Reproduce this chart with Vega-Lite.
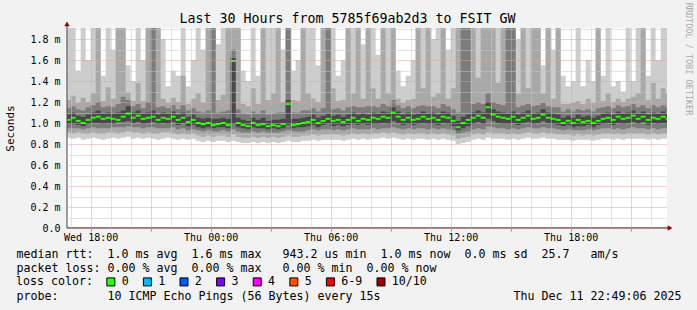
{
"$schema":"https://vega.github.io/schema/vega-lite/v6.json",
"width":600,"height":200,
"autosize":{"type":"none"},
"padding":{"left":67,"top":28,"right":30,"bottom":82},
"background":"#f2f2f2",
"config":{"font":"DejaVu Sans Mono","view":{"fill":"#ffffff","stroke":null},"axis":{"labelFont":"DejaVu Sans Mono","titleFont":"DejaVu Sans Mono"},"legend":{"labelFont":"DejaVu Sans Mono","titleFont":"DejaVu Sans Mono"}},
"title":{"text":"Last 30 Hours from 5785f69ab2d3 to FSIT GW","font":"DejaVu Sans Mono","fontSize":13.29,"fontWeight":"normal","color":"#000000","anchor":"middle","dx":-19.5,"offset":-34.5,"baseline":"alphabetic"},
"data":{"values":[
{"t":16.75,"a":0.86,"b":0.91,"c":0.95,"d":0.99,"m":1.03,"e":1.08,"f":1.14,"g":1.22,"h":2.5},
{"t":17.0,"a":0.85,"b":0.90,"c":0.95,"d":0.99,"m":1.05,"e":1.10,"f":1.16,"g":1.26,"h":2.5},
{"t":17.25,"a":0.86,"b":0.91,"c":0.95,"d":0.98,"m":1.02,"e":1.07,"f":1.13,"g":1.19,"h":1.5},
{"t":17.5,"a":0.84,"b":0.90,"c":0.94,"d":0.97,"m":1.00,"e":1.06,"f":1.12,"g":1.24,"h":2.5},
{"t":17.75,"a":0.85,"b":0.90,"c":0.95,"d":0.99,"m":1.03,"e":1.08,"f":1.15,"g":1.20,"h":1.6},
{"t":18.0,"a":0.86,"b":0.91,"c":0.96,"d":1.00,"m":1.05,"e":1.10,"f":1.17,"g":1.28,"h":2.5},
{"t":18.25,"a":0.85,"b":0.90,"c":0.95,"d":1.00,"m":1.06,"e":1.12,"f":1.20,"g":2.5,"h":2.5},
{"t":18.5,"a":0.84,"b":0.90,"c":0.95,"d":0.99,"m":1.04,"e":1.09,"f":1.15,"g":1.21,"h":1.45},
{"t":18.75,"a":0.85,"b":0.91,"c":0.95,"d":1.00,"m":1.05,"e":1.10,"f":1.16,"g":1.34,"h":2.5},
{"t":19.0,"a":0.86,"b":0.91,"c":0.96,"d":0.99,"m":1.04,"e":1.09,"f":1.15,"g":1.23,"h":1.7},
{"t":19.25,"a":0.85,"b":0.90,"c":0.96,"d":1.01,"m":1.03,"e":1.10,"f":1.18,"g":2.5,"h":2.5},
{"t":19.5,"a":0.86,"b":0.91,"c":0.96,"d":1.01,"m":1.06,"e":1.12,"f":1.25,"g":2.5,"h":2.5},
{"t":19.75,"a":0.87,"b":0.92,"c":0.97,"d":1.02,"m":1.09,"e":1.16,"f":1.22,"g":1.29,"h":1.55},
{"t":20.0,"a":0.85,"b":0.91,"c":0.96,"d":1.00,"m":1.05,"e":1.10,"f":1.16,"g":1.21,"h":1.4},
{"t":20.25,"a":0.86,"b":0.91,"c":0.96,"d":1.01,"m":1.07,"e":1.12,"f":1.18,"g":1.38,"h":2.5},
{"t":20.5,"a":0.85,"b":0.90,"c":0.95,"d":0.99,"m":1.04,"e":1.09,"f":1.14,"g":1.21,"h":1.6},
{"t":20.75,"a":0.86,"b":0.91,"c":0.96,"d":1.00,"m":1.05,"e":1.10,"f":1.20,"g":2.5,"h":2.5},
{"t":21.0,"a":0.85,"b":0.90,"c":0.96,"d":1.01,"m":1.06,"e":1.12,"f":2.5,"g":2.5,"h":2.5},
{"t":21.25,"a":0.84,"b":0.90,"c":0.95,"d":0.99,"m":1.03,"e":1.08,"f":1.15,"g":2.5,"h":2.5},
{"t":21.5,"a":0.85,"b":0.91,"c":0.95,"d":1.00,"m":1.05,"e":1.10,"f":1.16,"g":1.23,"h":1.8},
{"t":21.75,"a":0.86,"b":0.91,"c":0.95,"d":0.99,"m":1.04,"e":1.09,"f":1.14,"g":1.19,"h":1.35},
{"t":22.0,"a":0.85,"b":0.90,"c":0.96,"d":1.01,"m":1.06,"e":1.11,"f":1.17,"g":1.24,"h":1.5},
{"t":22.25,"a":0.84,"b":0.89,"c":0.94,"d":0.98,"m":1.03,"e":1.08,"f":1.13,"g":1.20,"h":1.45},
{"t":22.5,"a":0.85,"b":0.90,"c":0.95,"d":1.00,"m":1.05,"e":1.10,"f":1.17,"g":1.45,"h":2.5},
{"t":22.75,"a":0.84,"b":0.89,"c":0.93,"d":0.97,"m":1.01,"e":1.06,"f":1.12,"g":1.18,"h":1.35},
{"t":23.0,"a":0.85,"b":0.90,"c":0.94,"d":0.98,"m":1.03,"e":1.08,"f":1.14,"g":1.23,"h":1.6},
{"t":23.25,"a":0.83,"b":0.88,"c":0.93,"d":0.96,"m":1.00,"e":1.05,"f":1.11,"g":1.28,"h":2.5},
{"t":23.5,"a":0.82,"b":0.87,"c":0.92,"d":0.95,"m":0.99,"e":1.04,"f":1.10,"g":1.19,"h":1.7},
{"t":23.75,"a":0.83,"b":0.88,"c":0.93,"d":0.96,"m":1.00,"e":1.05,"f":1.12,"g":2.5,"h":2.5},
{"t":24.0,"a":0.82,"b":0.87,"c":0.92,"d":0.95,"m":0.98,"e":1.04,"f":2.5,"g":2.5,"h":2.5},
{"t":24.25,"a":0.83,"b":0.88,"c":0.92,"d":0.96,"m":0.99,"e":1.04,"f":1.10,"g":1.22,"h":1.75},
{"t":24.5,"a":0.83,"b":0.88,"c":0.93,"d":0.96,"m":1.00,"e":1.05,"f":1.11,"g":1.27,"h":2.5},
{"t":24.75,"a":0.82,"b":0.87,"c":0.92,"d":0.95,"m":0.98,"e":1.04,"f":1.12,"g":2.5,"h":2.5},
{"t":25.0,"a":0.83,"b":0.89,"c":0.94,"d":0.99,"m":1.59,"e":1.62,"f":1.70,"g":2.5,"h":2.5},
{"t":25.25,"a":0.82,"b":0.87,"c":0.92,"d":0.96,"m":1.00,"e":1.05,"f":1.13,"g":2.5,"h":2.5},
{"t":25.5,"a":0.81,"b":0.86,"c":0.91,"d":0.95,"m":0.98,"e":1.03,"f":1.09,"g":1.18,"h":1.5},
{"t":25.75,"a":0.81,"b":0.86,"c":0.91,"d":0.94,"m":0.97,"e":1.02,"f":1.08,"g":1.16,"h":1.4},
{"t":26.0,"a":0.82,"b":0.87,"c":0.92,"d":0.96,"m":1.00,"e":1.05,"f":1.11,"g":1.33,"h":2.5},
{"t":26.25,"a":0.81,"b":0.86,"c":0.91,"d":0.95,"m":0.98,"e":1.03,"f":1.09,"g":1.18,"h":1.45},
{"t":26.5,"a":0.82,"b":0.87,"c":0.92,"d":0.95,"m":0.99,"e":1.05,"f":1.12,"g":2.5,"h":2.5},
{"t":26.75,"a":0.81,"b":0.86,"c":0.91,"d":0.94,"m":0.97,"e":1.02,"f":1.08,"g":1.22,"h":2.5},
{"t":27.0,"a":0.82,"b":0.87,"c":0.91,"d":0.95,"m":0.98,"e":1.03,"f":1.09,"g":1.28,"h":2.5},
{"t":27.25,"a":0.81,"b":0.86,"c":0.91,"d":0.94,"m":0.97,"e":1.03,"f":1.10,"g":2.5,"h":2.5},
{"t":27.5,"a":0.82,"b":0.87,"c":0.92,"d":0.95,"m":0.99,"e":1.04,"f":1.10,"g":1.20,"h":1.7},
{"t":27.75,"a":0.83,"b":0.88,"c":0.93,"d":0.98,"m":1.18,"e":1.22,"f":2.5,"g":2.5,"h":2.5},
{"t":28.0,"a":0.82,"b":0.87,"c":0.92,"d":0.95,"m":0.98,"e":1.04,"f":1.10,"g":1.22,"h":1.5},
{"t":28.25,"a":0.82,"b":0.87,"c":0.92,"d":0.96,"m":0.99,"e":1.04,"f":1.10,"g":1.21,"h":1.6},
{"t":28.5,"a":0.83,"b":0.88,"c":0.92,"d":0.96,"m":1.00,"e":1.05,"f":1.12,"g":2.5,"h":2.5},
{"t":28.75,"a":0.83,"b":0.88,"c":0.93,"d":0.97,"m":1.01,"e":1.06,"f":1.12,"g":1.28,"h":2.5},
{"t":29.0,"a":0.84,"b":0.89,"c":0.94,"d":0.98,"m":1.03,"e":1.08,"f":1.14,"g":1.23,"h":2.5},
{"t":29.25,"a":0.83,"b":0.88,"c":0.93,"d":0.96,"m":1.00,"e":1.05,"f":1.11,"g":1.20,"h":1.55},
{"t":29.5,"a":0.84,"b":0.89,"c":0.94,"d":0.98,"m":1.02,"e":1.07,"f":1.14,"g":2.5,"h":2.5},
{"t":29.75,"a":0.84,"b":0.89,"c":0.94,"d":0.99,"m":1.04,"e":1.09,"f":2.5,"g":2.5,"h":2.5},
{"t":30.0,"a":0.84,"b":0.89,"c":0.93,"d":0.97,"m":1.02,"e":1.07,"f":1.13,"g":1.33,"h":2.5},
{"t":30.25,"a":0.84,"b":0.89,"c":0.94,"d":0.98,"m":1.03,"e":1.08,"f":1.14,"g":1.21,"h":1.45},
{"t":30.5,"a":0.83,"b":0.88,"c":0.93,"d":0.97,"m":1.01,"e":1.06,"f":1.12,"g":1.22,"h":1.6},
{"t":30.75,"a":0.84,"b":0.89,"c":0.94,"d":0.98,"m":1.03,"e":1.08,"f":1.15,"g":2.5,"h":2.5},
{"t":31.0,"a":0.85,"b":0.90,"c":0.95,"d":0.99,"m":1.05,"e":1.10,"f":1.16,"g":1.28,"h":2.5},
{"t":31.25,"a":0.84,"b":0.89,"c":0.94,"d":0.98,"m":1.02,"e":1.08,"f":1.15,"g":2.5,"h":2.5},
{"t":31.5,"a":0.85,"b":0.90,"c":0.94,"d":0.99,"m":1.04,"e":1.09,"f":1.15,"g":1.23,"h":1.75},
{"t":31.75,"a":0.84,"b":0.89,"c":0.94,"d":0.98,"m":1.03,"e":1.08,"f":1.16,"g":2.5,"h":2.5},
{"t":32.0,"a":0.85,"b":0.90,"c":0.95,"d":0.99,"m":1.05,"e":1.10,"f":1.16,"g":1.33,"h":2.5},
{"t":32.25,"a":0.85,"b":0.90,"c":0.94,"d":0.99,"m":1.04,"e":1.09,"f":1.15,"g":1.23,"h":1.65},
{"t":32.5,"a":0.86,"b":0.91,"c":0.95,"d":1.00,"m":1.06,"e":1.11,"f":1.18,"g":2.5,"h":2.5},
{"t":32.75,"a":0.85,"b":0.90,"c":0.95,"d":0.99,"m":1.05,"e":1.10,"f":1.16,"g":1.28,"h":2.5},
{"t":33.0,"a":0.86,"b":0.91,"c":0.96,"d":1.02,"m":1.10,"e":1.15,"f":1.22,"g":2.5,"h":2.5},
{"t":33.25,"a":0.85,"b":0.90,"c":0.95,"d":1.00,"m":1.06,"e":1.11,"f":1.17,"g":1.23,"h":1.5},
{"t":33.5,"a":0.84,"b":0.89,"c":0.94,"d":0.98,"m":1.03,"e":1.08,"f":1.14,"g":1.19,"h":1.35},
{"t":33.75,"a":0.85,"b":0.90,"c":0.95,"d":0.99,"m":1.05,"e":1.10,"f":1.16,"g":1.22,"h":1.45},
{"t":34.0,"a":0.84,"b":0.89,"c":0.94,"d":0.98,"m":1.03,"e":1.08,"f":1.14,"g":1.23,"h":1.6},
{"t":34.25,"a":0.85,"b":0.90,"c":0.95,"d":0.99,"m":1.04,"e":1.09,"f":1.16,"g":2.5,"h":2.5},
{"t":34.5,"a":0.85,"b":0.90,"c":0.95,"d":1.00,"m":1.06,"e":1.11,"f":1.17,"g":1.33,"h":2.5},
{"t":34.75,"a":0.84,"b":0.89,"c":0.94,"d":0.99,"m":1.04,"e":1.09,"f":1.16,"g":2.5,"h":2.5},
{"t":35.0,"a":0.85,"b":0.90,"c":0.95,"d":0.99,"m":1.05,"e":1.10,"f":1.16,"g":1.25,"h":1.8},
{"t":35.25,"a":0.84,"b":0.89,"c":0.94,"d":0.98,"m":1.03,"e":1.08,"f":1.14,"g":1.28,"h":2.5},
{"t":35.5,"a":0.85,"b":0.90,"c":0.95,"d":1.00,"m":1.06,"e":1.11,"f":1.18,"g":2.5,"h":2.5},
{"t":35.75,"a":0.84,"b":0.89,"c":0.94,"d":0.99,"m":1.05,"e":1.10,"f":1.16,"g":1.23,"h":1.7},
{"t":36.0,"a":0.83,"b":0.88,"c":0.93,"d":0.97,"m":1.02,"e":1.07,"f":1.13,"g":1.33,"h":2.5},
{"t":36.25,"a":0.80,"b":0.85,"c":0.90,"d":0.93,"m":0.96,"e":1.02,"f":1.10,"g":2.5,"h":2.5},
{"t":36.5,"a":0.81,"b":0.86,"c":0.91,"d":0.95,"m":1.00,"e":1.06,"f":2.5,"g":2.5,"h":2.5},
{"t":36.75,"a":0.82,"b":0.87,"c":0.92,"d":0.97,"m":1.03,"e":1.08,"f":2.5,"g":2.5,"h":2.5},
{"t":37.0,"a":0.84,"b":0.89,"c":0.94,"d":0.99,"m":1.05,"e":1.10,"f":1.18,"g":2.5,"h":2.5},
{"t":37.25,"a":0.85,"b":0.90,"c":0.95,"d":1.01,"m":1.07,"e":1.12,"f":1.20,"g":1.43,"h":2.5},
{"t":37.5,"a":0.84,"b":0.89,"c":0.94,"d":0.99,"m":1.05,"e":1.10,"f":1.18,"g":2.5,"h":2.5},
{"t":37.75,"a":0.86,"b":0.91,"c":0.97,"d":1.04,"m":1.15,"e":1.20,"f":1.28,"g":2.5,"h":2.5},
{"t":38.0,"a":0.85,"b":0.90,"c":0.96,"d":1.02,"m":1.08,"e":1.13,"f":1.20,"g":2.5,"h":2.5},
{"t":38.25,"a":0.85,"b":0.90,"c":0.95,"d":1.00,"m":1.06,"e":1.11,"f":1.18,"g":1.38,"h":2.5},
{"t":38.5,"a":0.85,"b":0.90,"c":0.95,"d":0.99,"m":1.05,"e":1.10,"f":1.17,"g":2.5,"h":2.5},
{"t":38.75,"a":0.84,"b":0.89,"c":0.94,"d":0.99,"m":1.04,"e":1.09,"f":2.5,"g":2.5,"h":2.5},
{"t":39.0,"a":0.85,"b":0.90,"c":0.95,"d":1.00,"m":1.06,"e":1.11,"f":2.5,"g":2.5,"h":2.5},
{"t":39.25,"a":0.84,"b":0.89,"c":0.94,"d":0.98,"m":1.03,"e":1.08,"f":1.15,"g":1.28,"h":1.8},
{"t":39.5,"a":0.85,"b":0.90,"c":0.95,"d":1.00,"m":1.05,"e":1.10,"f":1.17,"g":2.5,"h":2.5},
{"t":39.75,"a":0.86,"b":0.91,"c":0.96,"d":1.01,"m":1.07,"e":1.12,"f":1.18,"g":1.33,"h":2.5},
{"t":40.0,"a":0.85,"b":0.90,"c":0.95,"d":0.99,"m":1.04,"e":1.09,"f":1.16,"g":2.5,"h":2.5},
{"t":40.25,"a":0.85,"b":0.90,"c":0.95,"d":1.00,"m":1.05,"e":1.10,"f":1.17,"g":2.5,"h":2.5},
{"t":40.5,"a":0.86,"b":0.91,"c":0.96,"d":1.02,"m":1.08,"e":1.13,"f":1.19,"g":1.28,"h":1.55},
{"t":40.75,"a":0.85,"b":0.90,"c":0.95,"d":1.00,"m":1.05,"e":1.10,"f":1.16,"g":2.5,"h":2.5},
{"t":41.0,"a":0.85,"b":0.90,"c":0.95,"d":0.99,"m":1.04,"e":1.09,"f":1.15,"g":1.23,"h":1.7},
{"t":41.25,"a":0.84,"b":0.89,"c":0.94,"d":0.98,"m":1.03,"e":1.08,"f":1.15,"g":2.5,"h":2.5},
{"t":41.5,"a":0.84,"b":0.89,"c":0.93,"d":0.97,"m":1.00,"e":1.05,"f":1.11,"g":1.18,"h":1.45},
{"t":41.75,"a":0.84,"b":0.89,"c":0.94,"d":0.98,"m":1.02,"e":1.07,"f":1.13,"g":1.18,"h":1.35},
{"t":42.0,"a":0.83,"b":0.88,"c":0.93,"d":0.96,"m":1.00,"e":1.05,"f":1.11,"g":1.19,"h":1.4},
{"t":42.25,"a":0.84,"b":0.89,"c":0.93,"d":0.97,"m":1.03,"e":1.08,"f":1.13,"g":1.21,"h":2.5},
{"t":42.5,"a":0.84,"b":0.88,"c":0.93,"d":0.97,"m":1.01,"e":1.06,"f":1.12,"g":1.18,"h":1.35},
{"t":42.75,"a":0.84,"b":0.89,"c":0.94,"d":0.98,"m":1.02,"e":1.07,"f":1.13,"g":1.23,"h":1.6},
{"t":43.0,"a":0.83,"b":0.88,"c":0.93,"d":0.96,"m":1.00,"e":1.05,"f":1.11,"g":1.19,"h":1.4},
{"t":43.25,"a":0.84,"b":0.89,"c":0.94,"d":0.98,"m":1.02,"e":1.07,"f":1.14,"g":2.5,"h":2.5},
{"t":43.5,"a":0.85,"b":0.90,"c":0.95,"d":0.99,"m":1.04,"e":1.09,"f":1.15,"g":1.21,"h":1.45},
{"t":43.75,"a":0.85,"b":0.90,"c":0.95,"d":1.00,"m":1.05,"e":1.10,"f":1.16,"g":1.28,"h":2.5},
{"t":44.0,"a":0.84,"b":0.89,"c":0.94,"d":0.98,"m":1.03,"e":1.08,"f":1.14,"g":1.20,"h":1.35},
{"t":44.25,"a":0.85,"b":0.90,"c":0.95,"d":1.00,"m":1.06,"e":1.11,"f":1.17,"g":1.23,"h":1.4},
{"t":44.5,"a":0.84,"b":0.89,"c":0.94,"d":0.99,"m":1.04,"e":1.09,"f":1.15,"g":1.20,"h":1.3},
{"t":44.75,"a":0.85,"b":0.90,"c":0.95,"d":1.00,"m":1.05,"e":1.10,"f":1.16,"g":1.23,"h":2.5},
{"t":45.0,"a":0.85,"b":0.90,"c":0.96,"d":1.01,"m":1.07,"e":1.12,"f":1.18,"g":1.25,"h":1.4},
{"t":45.25,"a":0.85,"b":0.90,"c":0.95,"d":0.99,"m":1.04,"e":1.09,"f":1.15,"g":1.28,"h":2.5},
{"t":45.5,"a":0.85,"b":0.90,"c":0.95,"d":1.01,"m":1.06,"e":1.11,"f":1.17,"g":2.5,"h":2.5},
{"t":45.75,"a":0.84,"b":0.89,"c":0.94,"d":0.98,"m":1.03,"e":1.08,"f":1.14,"g":1.22,"h":1.45},
{"t":46.0,"a":0.85,"b":0.90,"c":0.95,"d":1.00,"m":1.05,"e":1.10,"f":1.17,"g":1.38,"h":2.5},
{"t":46.25,"a":0.84,"b":0.89,"c":0.94,"d":0.99,"m":1.04,"e":1.09,"f":1.15,"g":1.23,"h":1.6},
{"t":46.5,"a":0.85,"b":0.90,"c":0.95,"d":1.00,"m":1.06,"e":1.11,"f":1.17,"g":1.33,"h":2.5},
{"t":46.75,"a":0.85,"b":0.90,"c":0.95,"d":0.99,"m":1.04,"e":1.09,"f":1.15,"g":1.28,"h":2.5},
{"t":47.0,"a":0.85,"b":0.90,"c":0.95,"d":0.99,"m":1.04,"e":1.09,"f":1.15,"g":1.28,"h":2.5}
]},
"resolve":{"axis":{"x":"independent","y":"independent"}},
"layer":[
{"mark":{"type":"area","interpolate":"step-after","clip":true,"color":"#cdcdcd"},
 "encoding":{
  "x":{"field":"t","type":"quantitative","scale":{"domain":[16.818,46.818],"nice":false,"zero":false},
   "axis":{"orient":"bottom","values":[17,19,20,22,23,25,26,28,29,31,32,34,35,37,38,40,41,43,44,46],"grid":true,"gridColor":"#c8c8c8","gridDash":[1,1],"labels":false,"ticks":false,"domain":false,"title":null,"zindex":1}},
  "y":{"field":"a","type":"quantitative","scale":{"domain":[0,1.905],"nice":false,"zero":false},
   "axis":{"orient":"left","values":[0.1,0.3,0.5,0.7,0.9,1.1,1.3,1.5,1.7,1.9],"grid":true,"gridColor":"#c8c8c8","gridDash":[1,1],"labels":false,"ticks":false,"domain":false,"title":null,"zindex":1}},
  "y2":{"field":"h"}}},
{"mark":{"type":"area","interpolate":"step-after","clip":true,"color":"#a8a8a8"},
 "encoding":{
  "x":{"field":"t","type":"quantitative","scale":{"domain":[16.818,46.818],"nice":false,"zero":false},
   "axis":{"orient":"bottom","values":[18,21,24,27,30,33,36,39,42,45],"grid":true,"gridColor":"#e2a0a0","gridDash":[1,1],"labels":false,"ticks":true,"tickColor":"#d08080","tickSize":3,"domain":false,"title":null,"zindex":1}},
  "y":{"field":"b","type":"quantitative","scale":{"domain":[0,1.905],"nice":false,"zero":false},
   "axis":{"orient":"left","values":[0,0.2,0.4,0.6,0.8,1.0,1.2,1.4,1.6,1.8],"grid":true,"gridColor":"#e2a0a0","gridDash":[1,1],"ticks":false,"domain":false,"labelExpr":"datum.value == 0 ? '0.0\u00a0\u00a0' : format(datum.value, '.1f') + ' m'","labelAlign":"right","labelPadding":7,"labelFontSize":10,"labelColor":"#000000","title":"Seconds","titleFontSize":11,"titleFontWeight":"normal","titleColor":"#000000","titleX":-57,"titleY":100,"titleAlign":"center","titleBaseline":"middle","zindex":1}},
  "y2":{"field":"g"}}},
{"mark":{"type":"area","interpolate":"step-after","clip":true,"color":"#7c7c7c"},
 "encoding":{
  "x":{"field":"t","type":"quantitative","scale":{"domain":[16.818,46.818],"nice":false,"zero":false},
   "axis":{"orient":"bottom","values":[18,24,30,36,42],"grid":false,"ticks":false,"domain":false,"labelExpr":"(datum.value < 24 ? 'Wed ' : 'Thu ') + (datum.value % 24 < 10 ? '0' : '') + (datum.value % 24) + ':00'","labelFontSize":10,"labelColor":"#000000","labelBaseline":"alphabetic","labelPadding":12.5,"labelFlush":false,"labelOverlap":false,
    "title":["median rtt:\u00a0\u00a01.0 ms avg\u00a0\u00a01.6 ms max\u00a0\u00a0\u00a0943.2 us min\u00a0\u00a01.0 ms now\u00a0\u00a00.0 ms sd\u00a0\u00a025.7\u00a0\u00a0\u00a0am/s","packet loss: 0.00 % avg\u00a0\u00a00.00 % max\u00a0\u00a0\u00a00.00 % min\u00a0\u00a00.00 % now","\u200b","probe:\u00a0\u00a0\u00a0\u00a0\u00a0\u00a0\u00a010 ICMP Echo Pings (56 Bytes) every 15s\u00a0\u00a0\u00a0\u00a0\u00a0\u00a0\u00a0\u00a0\u00a0\u00a0\u00a0\u00a0\u00a0\u00a0\u00a0\u00a0\u00a0\u00a0\u00a0Thu Dec 11 22:49:06 2025"],
    "titleX":-51,"titleY":29.5,"titleAlign":"left","titleBaseline":"alphabetic","titleFontSize":11.63,"titleFontWeight":"normal","titleColor":"#000000","titleLineHeight":14,"titleLimit":1000,"zindex":1}},
  "y":{"field":"c","type":"quantitative","scale":{"domain":[0,1.905],"nice":false,"zero":false},
   "axis":{"orient":"right","labels":false,"grid":false,"ticks":false,"domain":false,"title":"RRDTOOL / TOBI OETIKER","titleAngle":90,"titleFontSize":8.5,"titleFontWeight":"normal","titleColor":"#aaaaaa","titleX":21,"titleY":30.5,"titleAlign":"center","titleBaseline":"middle","zindex":1}},
  "y2":{"field":"f"}}},
{"mark":{"type":"area","interpolate":"step-after","clip":true,"color":"#484848"},
 "encoding":{
  "x":{"field":"t","type":"quantitative","scale":{"domain":[16.818,46.818],"nice":false,"zero":false},"axis":null},
  "y":{"field":"d","type":"quantitative","scale":{"domain":[0,1.905],"nice":false,"zero":false},"axis":null},
  "y2":{"field":"e"}}},
{"mark":{"type":"tick","orient":"horizontal","thickness":2,"size":5,"xOffset":2.5,"clip":true,"opacity":1},
 "encoding":{
  "x":{"field":"t","type":"quantitative","scale":{"domain":[16.818,46.818],"nice":false,"zero":false},"axis":null},
  "y":{"field":"m","type":"quantitative","scale":{"domain":[0,1.905],"nice":false,"zero":false},"axis":null},
  "color":{"datum":"0","type":"nominal","scale":{"domain":["0","1","2","3","4","5","6-9","10/10"],"range":["#26ff00","#00b8ff","#0059ff","#7e00ff","#ff00ff","#ff5500","#ff0000","#a10000"]},
   "legend":{"title":"loss color:","orient":"none","legendX":-51,"legendY":248,"direction":"horizontal","columns":8,"titleOrient":"left","titleFontSize":11.63,"titleFontWeight":"normal","titleColor":"#000000","titlePadding":12,"labelFontSize":11.63,"labelColor":"#000000","labelOffset":5,"symbolType":"square","symbolSize":64,"symbolStrokeColor":"#000000","symbolStrokeWidth":1,"symbolOpacity":1,"columnPadding":11.6,"padding":0,
    "encode":{"symbols":{"update":{"stroke":{"value":"#000000"},"strokeWidth":{"value":1}}}}}}}},
{"data":{"values":[{}]},"mark":{"type":"rule","color":"#000000","strokeWidth":1,"clip":false},
 "encoding":{
  "x":{"datum":16.818,"type":"quantitative","scale":{"domain":[16.818,46.818],"nice":false,"zero":false},"axis":null},
  "x2":{"datum":46.95},
  "y":{"datum":0,"type":"quantitative","scale":{"domain":[0,1.905],"nice":false,"zero":false},"axis":null}}},
{"data":{"values":[{}]},"mark":{"type":"rule","color":"#404040","strokeWidth":1,"clip":false},
 "encoding":{
  "x":{"datum":16.818,"type":"quantitative","scale":{"domain":[16.818,46.818],"nice":false,"zero":false},"axis":null},
  "y":{"datum":0,"type":"quantitative","scale":{"domain":[0,1.905],"nice":false,"zero":false},"axis":null},
  "y2":{"datum":1.95}}},
{"data":{"values":[{}]},"mark":{"type":"point","shape":"triangle-right","filled":true,"color":"#a00000","size":30,"opacity":1,"clip":false},
 "encoding":{
  "x":{"datum":46.97,"type":"quantitative","scale":{"domain":[16.818,46.818],"nice":false,"zero":false},"axis":null},
  "y":{"datum":0,"type":"quantitative","scale":{"domain":[0,1.905],"nice":false,"zero":false},"axis":null}}},
{"data":{"values":[{}]},"mark":{"type":"point","shape":"triangle-up","filled":true,"color":"#a00000","size":30,"opacity":1,"clip":false},
 "encoding":{
  "x":{"datum":16.818,"type":"quantitative","scale":{"domain":[16.818,46.818],"nice":false,"zero":false},"axis":null},
  "y":{"datum":1.945,"type":"quantitative","scale":{"domain":[0,1.905],"nice":false,"zero":false},"axis":null}}}
]
}
